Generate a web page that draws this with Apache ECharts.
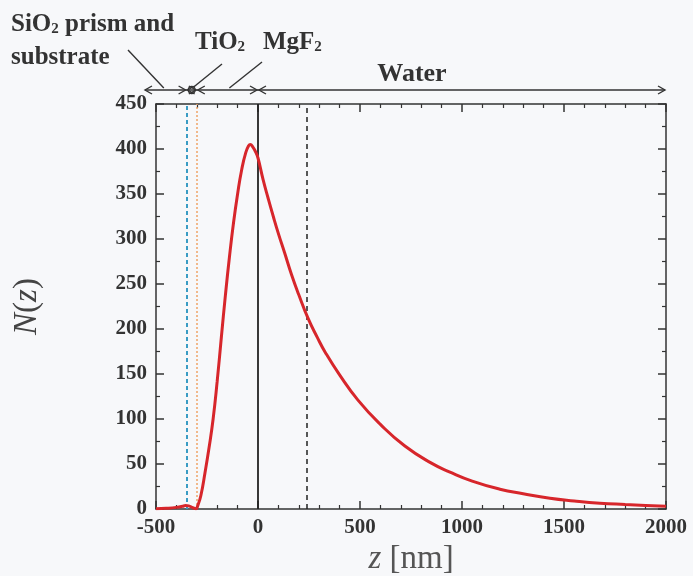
<!DOCTYPE html>
<html><head><meta charset="utf-8">
<script src="https://cdn.jsdelivr.net/npm/echarts@6/dist/echarts.min.js"></script>
<style>html,body{margin:0;padding:0;background:#f7f8fa}#c{width:693px;height:576px}</style>
</head><body><div id="c"></div>
<script>
// Data
const zValues = [-500,-450,-400,-370,-355,-340,-320,-305,-295,-280,-260,-240,-220,-200,-180,-160,-140,-120,-100,-80,-60,-45,-38,-25,-10,0,25,50,75,100,130,165,200,245,290,330,400,490,600,720,850,941,1050,1186,1300,1431,1550,1676,1800,1900,2000];
const nValues = [0.3,0.8,1.8,3,4,3.5,1.5,0.3,4,15,40,68,100,142,190,237,280,318,350,377,396,404,405,402,396,390,366,345,325,306,285,260,238,212,191,174,149,121,94,70,51,41,31,22,17,12,9,6.5,5,4,3];
const layerBounds = [-350, -300, 0];   // SiO2 | TiO2 | MgF2 | Water
const dashedMarker = 240;
const xMin = -500, xMax = 2000, xStep = 500;
const yMin = 0, yMax = 450, yStep = 50;

const FONT = '"Liberation Serif","Times New Roman",serif';
const TXT = '#333';
const chart = echarts.init(document.getElementById('c'));
const curve = zValues.map((z, i) => [z, nValues[i]]);

const baseX = {
  type: 'value', min: xMin, max: xMax, interval: xStep,
  axisLine: {show: true, onZero: false, lineStyle: {color: '#333', width: 1.5}},
  axisTick: {show: true, inside: true, length: 8, lineStyle: {color: '#333', width: 1.5}},
  minorTick: {show: true, splitNumber: 5, length: 4, lineStyle: {color: '#333', width: 1.2}},
  splitLine: {show: false}, minorSplitLine: {show: false}
};
const baseY = {
  type: 'value', min: yMin, max: yMax, interval: yStep,
  axisLine: {show: true, onZero: false, lineStyle: {color: '#333', width: 1.5}},
  axisTick: {show: true, inside: true, length: 8, lineStyle: {color: '#333', width: 1.5}},
  minorTick: {show: true, splitNumber: 2, length: 4, lineStyle: {color: '#333', width: 1.2}},
  splitLine: {show: false}, minorSplitLine: {show: false}
};

chart.setOption({
  backgroundColor: '#f7f8fa',
  animation: false,
  grid: {left: 156, right: 27, top: 104, bottom: 67, containLabel: false, outerBoundsMode: 'none'},
  xAxis: [
    Object.assign({}, baseX, {
      position: 'bottom',
      axisLabel: {show: true, margin: 8, color: TXT, fontFamily: FONT, fontWeight: 'bold', fontSize: 21,
        formatter: v => String(v)},
      name: '{i|z} {n|[nm]}', nameLocation: 'middle', nameGap: 28,
      nameTextStyle: {
        color: '#555', fontFamily: FONT, fontSize: 33,
        rich: {i: {fontStyle: 'italic', fontFamily: FONT, fontSize: 33, color: '#555'},
               n: {fontFamily: FONT, fontSize: 33, color: '#555'}}
      }
    }),
    Object.assign({}, baseX, {position: 'top', axisLabel: {show: false}})
  ],
  yAxis: [
    Object.assign({}, baseY, {
      position: 'left',
      axisLabel: {show: true, margin: 9, color: TXT, fontFamily: FONT, fontWeight: 'bold', fontSize: 21,
        formatter: v => String(v)},
      name: '{i|N}{n|(}{i|z}{n|)}', nameLocation: 'middle', nameGap: 112,
      nameTextStyle: {
        color: '#444', fontFamily: FONT, fontSize: 33,
        rich: {i: {fontStyle: 'italic', fontFamily: FONT, fontSize: 33, color: '#444'},
               n: {fontFamily: FONT, fontSize: 33, color: '#444'}}
      }
    }),
    Object.assign({}, baseY, {position: 'right', axisLabel: {show: false}})
  ],
  series: [{
    type: 'line', xAxisIndex: 0, yAxisIndex: 0,
    data: curve, showSymbol: false, smooth: 0.5,
    lineStyle: {color: '#d7262b', width: 3},
    z: 5,
    markLine: {
      silent: true, symbol: 'none', label: {show: false}, animation: false,
      data: [
        {xAxis: layerBounds[0], lineStyle: {color: '#3a9cc4', type: [4, 3], width: 2}},
        {xAxis: layerBounds[1], lineStyle: {color: '#f0a468', type: [2, 2], width: 1.5}},
        {xAxis: layerBounds[2], lineStyle: {color: '#222', type: 'solid', width: 1.8}},
        {xAxis: dashedMarker, lineStyle: {color: '#222', type: [5, 4], width: 1.5}}
      ]
    }
  }]
});

// annotations above the plot
const px = v => chart.convertToPixel({xAxisIndex: 0}, v);
const yA = 90;
const left = px(xMin) - 11, right = px(xMax) - 1;
const b = layerBounds.map(px);
const stroke = {stroke: '#333', lineWidth: 1.4, fill: 'none'};
const els = [];
const line = (x1, y1, x2, y2) => els.push({type: 'line', shape: {x1, y1, x2, y2}, style: stroke, silent: true});
const head = (x, dir) => {
  els.push({type: 'polyline', shape: {points: [[x - dir * 7, yA - 4], [x, yA], [x - dir * 7, yA + 4]]}, style: stroke, silent: true});
};
line(left, yA, right, yA);
head(left, -1); head(right, 1);
b.forEach(x => { head(x - 1, 1); head(x + 1, -1); });
els.push({type: 'circle', shape: {cx: (b[0] + b[1]) / 2, cy: yA, r: 3.5}, style: stroke, silent: true});
line((left + b[0]) / 2 - 2, yA - 2, 128, 50);
line((b[0] + b[1]) / 2 + 2, yA - 3, 222, 64);
line((b[1] + b[2]) / 2 + 2, yA - 2, 262, 62);

const txt = (x, y, t, size, align) => els.push({
  type: 'text', x, y, silent: true,
  style: {text: t, fill: TXT, font: 'bold ' + size + 'px ' + FONT, textAlign: align || 'left', textVerticalAlign: 'middle',
    rich: {a: {fontSize: size, fontWeight: 'bold', fontFamily: FONT, fill: TXT, color: TXT},
           s: {fontSize: Math.round(size * 0.6), fontWeight: 'bold', fontFamily: FONT, fill: TXT, color: TXT, padding: [9, 0, 0, 0]}}}
});
txt(11, 25, '{a|SiO}{s|2}{a| prism and}', 25);
txt(11, 58, '{a|substrate}', 25);
txt(195, 43, '{a|TiO}{s|2}', 25);
txt(263, 43, '{a|MgF}{s|2}', 25);
txt(412, 74, '{a|Water}', 26, 'center');
chart.setOption({graphic: els});
</script></body></html>
